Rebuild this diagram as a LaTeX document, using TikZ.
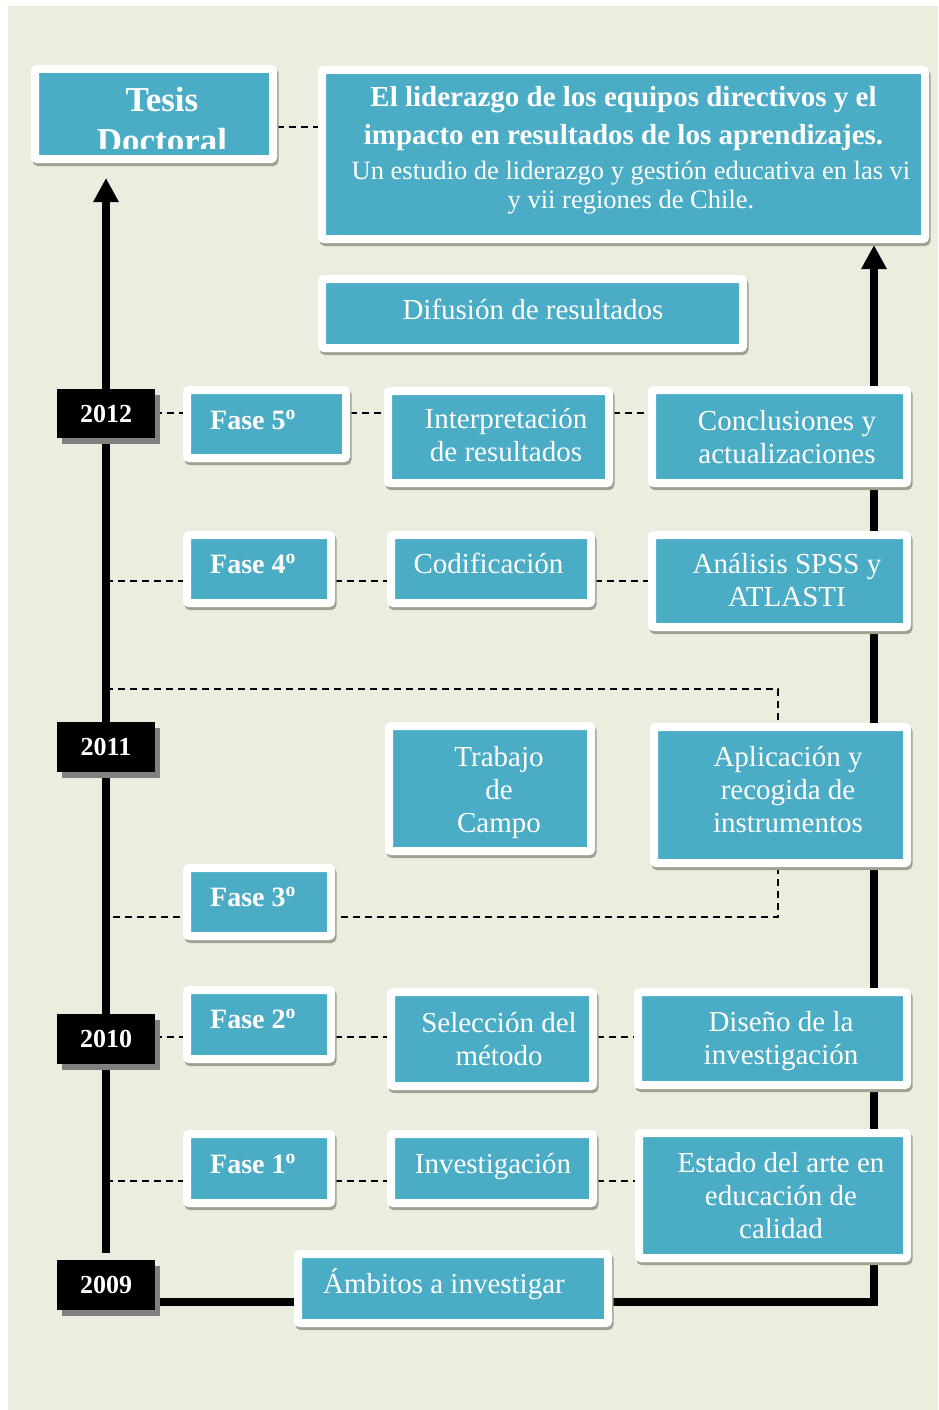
\documentclass[tikz,border=0pt]{standalone}
\usepackage{fontspec}
\setmainfont{Liberation Serif}
\usetikzlibrary{arrows.meta}
\definecolor{bgc}{HTML}{EBEEDE}
\definecolor{blu}{HTML}{4BACC6}
\definecolor{shc}{HTML}{A0A291}
\definecolor{ysh}{HTML}{808080}
\pgfdeclarelayer{back}
\pgfdeclarelayer{lines}
\pgfsetlayers{back,lines,main}
\newcommand\ml[1]{\parbox[t]{640pt}{\centering #1}}
\tikzset{
  bx/.style={fill=blu, draw=white, line width=8pt, rounded corners=2pt, inner sep=0pt,
    preaction={draw=shc, fill=shc, transform canvas={shift={(1.5pt,-3pt)}}}},
  yr/.style={fill=black, text=white, inner sep=0pt, minimum width=98pt,
    font=\bfseries\fontsize{26}{30}\selectfont,
    preaction={fill=ysh, transform canvas={shift={(5pt,-6pt)}}}},
  tx/.style={text=white, inner sep=0pt, anchor=base, font=\fontsize{29}{33}\selectfont},
  txw/.style={text=white, inner sep=0pt, anchor=base west, font=\bfseries\fontsize{28}{33}\selectfont},
  dsh/.style={draw=black, line width=2pt, dash pattern=on 7pt off 5pt},
  thk/.style={draw=black, line width=8pt},
}
\begin{document}
\begin{tikzpicture}[x=1pt,y=-1pt]
\useasboundingbox (0,0) rectangle (938,1410);
\begin{pgfonlayer}{back}
\fill[white] (0,0) rectangle (938,1410);
\fill[bgc] (8,6) rectangle (938,1410);
\end{pgfonlayer}
% level coordinates
\coordinate (L0) at (0,127);
\coordinate (L5) at (0,413);
\coordinate (L4) at (0,581);
\coordinate (L3a) at (0,689);
\coordinate (L3b) at (0,917);
\coordinate (L2) at (0,1037);
\coordinate (L1) at (0,1181);
\coordinate (lp) at (778,0);
\coordinate (rc) at (874,1302);
% boxes
\node[bx, minimum width=238pt, minimum height=90pt] (tesis) at (154,114) {};
\node[bx, minimum width=603pt, minimum height=169pt] (title) at (623.5,154.5) {};
\node[bx, minimum width=421pt, minimum height=69pt] (dif) at (532.5,313.5) {};
\node[bx, minimum width=159pt, minimum height=68pt] (f5) at (266.5,424) {};
\node[bx, minimum width=221pt, minimum height=92pt] (interp) at (498.5,437) {};
\node[bx, minimum width=255pt, minimum height=93pt] (concl) at (779.5,436.5) {};
\node[bx, minimum width=144pt, minimum height=68pt] (f4) at (259,569) {};
\node[bx, minimum width=200pt, minimum height=68pt] (cod) at (491,569) {};
\node[bx, minimum width=255pt, minimum height=92pt] (anal) at (779.5,581) {};
\node[bx, minimum width=202pt, minimum height=125pt] (trab) at (490,788.5) {};
\node[bx, minimum width=253pt, minimum height=136pt] (apl) at (780.5,795) {};
\node[bx, minimum width=144pt, minimum height=68pt] (f3) at (259,902) {};
\node[bx, minimum width=144pt, minimum height=69pt] (f2) at (259,1024.5) {};
\node[bx, minimum width=202pt, minimum height=94pt] (sel) at (492,1039) {};
\node[bx, minimum width=269pt, minimum height=93pt] (dis) at (772.5,1038.5) {};
\node[bx, minimum width=144pt, minimum height=69pt] (f1) at (259,1168.5) {};
\node[bx, minimum width=202pt, minimum height=69pt] (inv) at (492,1168.5) {};
\node[bx, minimum width=268pt, minimum height=125pt] (est) at (773,1195.5) {};
\node[bx, minimum width=310pt, minimum height=69pt] (amb) at (453,1288.5) {};
% years
\node[yr, minimum height=49pt] (y2012) at (106,413.5) {2012};
\node[yr, minimum height=50pt] (y2011) at (106,747) {2011};
\node[yr, minimum height=50pt] (y2010) at (106,1039) {2010};
\node[yr, minimum height=50pt] (y2009) at (106,1285) {2009};
% texts
\begin{scope}
\clip (38,72) rectangle (270,148);
\node[tx, font=\bfseries\fontsize{35}{41}\selectfont] (tTesis) at (162,112) {\ml{Tesis\\Doctoral}};
\end{scope}
\node[tx, font=\bfseries\fontsize{29}{37}\selectfont] (tTitle) at (623.5,107)
  {\ml{El liderazgo de los equipos directivos y el\\impacto en resultados de los aprendizajes.}};
\node[tx, font=\fontsize{26.5}{29}\selectfont] (tSub) at (631,179)
  {\ml{Un estudio de liderazgo y gestión educativa en las vi\\y vii regiones de Chile.}};
\node[tx] (tDif) at (533,319) {\ml{Difusión de resultados}};
\node[txw] (tF5) at (210,429) {Fase 5\textsuperscript{o}};
\node[tx] (tInt) at (506,428) {\ml{Interpretación\\de resultados}};
\node[tx] (tCon) at (787,430) {\ml{Conclusiones y\\actualizaciones}};
\node[txw] (tF4) at (210,573) {Fase 4\textsuperscript{o}};
\node[tx] (tCod) at (488.5,573) {\ml{Codificación}};
\node[tx] (tAna) at (787,573) {\ml{Análisis SPSS y\\ATLASTI}};
\node[tx] (tTra) at (499,766) {\ml{Trabajo\\de\\Campo}};
\node[tx] (tApl) at (788,766) {\ml{Aplicación y\\recogida de\\instrumentos}};
\node[txw] (tF3) at (210,906) {Fase 3\textsuperscript{o}};
\node[txw] (tF2) at (210,1028) {Fase 2\textsuperscript{o}};
\node[tx] (tSel) at (499,1032) {\ml{Selección del\\método}};
\node[tx] (tDis) at (781,1031) {\ml{Diseño de la\\investigación}};
\node[txw] (tF1) at (210,1173) {Fase 1\textsuperscript{o}};
\node[tx] (tInv) at (493,1173) {\ml{Investigación}};
\node[tx] (tEst) at (781,1172) {\ml{Estado del arte en\\educación de\\calidad}};
\node[tx] (tAmb) at (444,1293) {\ml{Ámbitos a investigar}};
% connectors
\begin{pgfonlayer}{lines}
\draw[dsh] (tesis.east |- L0) -- (title.west |- L0);
\draw[dsh] (y2012.east |- L5) -- (f5.west |- L5) (f5.east |- L5) -- (interp.west |- L5)
  (interp.east |- L5) -- (concl.west |- L5);
\draw[dsh] (y2012 |- L4) -- (f4.west |- L4) (f4.east |- L4) -- (cod.west |- L4)
  (cod.east |- L4) -- (anal.west |- L4);
\draw[dsh] (y2011 |- L3a) -- (lp |- L3a) -- (lp |- apl.north);
\draw[dsh] (lp |- apl.south) -- (lp |- L3b) -- (y2011 |- L3b);
\draw[dsh] (y2010.east |- L2) -- (f2.west |- L2) (f2.east |- L2) -- (sel.west |- L2)
  (sel.east |- L2) -- (dis.west |- L2);
\draw[dsh] (y2009 |- L1) -- (f1.west |- L1) (f1.east |- L1) -- (inv.west |- L1)
  (inv.east |- L1) -- (est.west |- L1);
\draw[thk, shorten <=7pt, shorten >=15pt, -{Triangle[width=24pt,length=24pt]}]
  (y2009.north) -- (y2009.north |- tesis.south);
\draw[thk, shorten >=2pt, -{Triangle[width=24pt,length=24pt]}]
  (y2009.east |- rc) -- (rc) -- (rc |- title.south);
\end{pgfonlayer}
\end{tikzpicture}
\end{document}
